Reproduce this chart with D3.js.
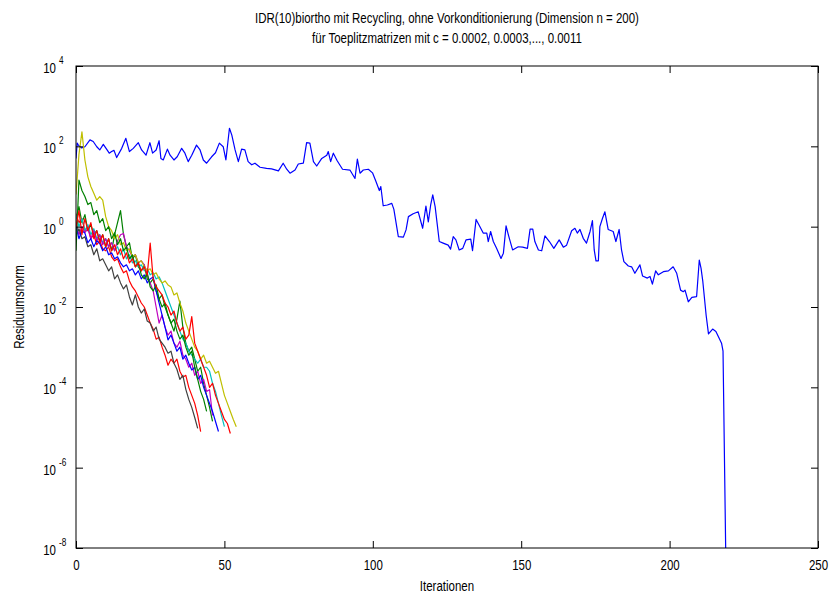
<!DOCTYPE html>
<html>
<head>
<meta charset="utf-8">
<script src="https://cdn.jsdelivr.net/npm/d3@7"></script>
<style>
  body { margin: 0; background: #fff; }
  svg text { font-family: "Liberation Sans", Arial, sans-serif; fill: #000; }
</style>
</head>
<body>
<div class="chart-container"></div>
<script>
// title lines and axis labels
const titleLines = [
    "IDR(10)biortho mit Recycling, ohne Vorkonditionierung (Dimension n = 200)",
    "für Toeplitzmatrizen mit c = 0.0002, 0.0003,..., 0.0011"
];
const xTicks = [0, 50, 100, 150, 200, 250];
const yTickExps = [4, 2, 0, -2, -4, -6, -8];

// long run (c = 0.0002): iteration and log10 of the residual norm
const blueIter = [0, 0.4, 0.8, 1.9, 3, 4.7, 5.8, 7, 8, 9.2, 10.3, 11.2, 12, 12.8, 13.7, 15.4, 16.8, 18, 19.3, 21, 22.1, 23.6,
    24.9, 25.8, 27, 28, 28.6, 29.4, 30.8, 31.7, 33, 34.1, 35.6, 36.7, 37.8, 39, 40.6, 41.8, 42.9, 44, 45.7, 47, 48.3, 49.6,
    50.5, 51.7, 52.5, 53.6, 54.7, 55.8, 56.9, 58, 59.2, 60.3, 62, 64.2, 65.9, 68.2, 69.8, 71, 72.1, 73.8, 74.9, 76.6, 77.7,
    78.8, 80, 81.1, 82.8, 84.5, 85, 85.8, 86.7, 88, 89.8, 92.3, 94, 94.8, 95.7, 96.8, 98.5, 99.9, 101.1, 102.2, 102.7, 103.5,
    104.9, 106.4, 107.1, 108.6, 110.3, 111.2, 112, 113.6, 115.3, 116.8, 117.9, 118.7, 119.5, 120.2, 121, 122.4, 123.7, 125.4,
    126.2, 127.1, 128, 129.1, 130.3, 131.4, 133, 133.6, 134.8, 136.1, 137.2, 138.4, 138.9, 139.7, 140.6, 141.7, 143.2, 144,
    144.9, 145.7, 147.1, 149, 150.5, 152.1, 153, 153.9, 154.6, 155.8, 156.9, 158, 159.5, 161, 162.8, 164.2, 165.3, 167,
    168.1, 168.9, 169.8, 170.9, 172, 173.2, 174, 174.6, 175.2, 176, 176.5, 177.4, 178.2, 179.3, 181, 181.9, 183, 183.8,
    184.6, 186.1, 187.2, 188.3, 190, 190.9, 192.5, 193.4, 194.2, 195.3, 196.2, 197.9, 199.6, 201.2, 202.4, 203.7, 204.6,
    205.2, 206.3, 207.5, 209.1, 210, 210.6, 211.2, 212.3, 213.1, 214.5, 215.6, 216.7, 217.5, 218, 219];
const blueExp = [1.7, 2.08, 2.03, 1.96, 1.99, 2.16, 2.12, 1.99, 1.91, 2.05, 1.93, 1.83, 1.87, 1.9, 1.72, 1.95, 2.2, 1.87, 1.95,
    2.09, 1.91, 1.78, 2.09, 1.83, 1.91, 2.14, 1.7, 1.66, 1.93, 1.78, 1.66, 1.74, 1.95, 1.83, 1.62, 1.78, 2.03, 1.91, 1.66,
    1.58, 1.74, 1.84, 2.08, 1.99, 1.66, 2.45, 2.28, 1.91, 1.62, 1.93, 1.91, 1.62, 1.54, 1.58, 1.48, 1.45, 1.44, 1.39, 1.58,
    1.43, 1.33, 1.41, 1.56, 1.58, 2.09, 2.08, 1.62, 1.51, 1.7, 1.78, 1.87, 1.62, 1.83, 1.64, 1.43, 1.41, 1.2, 1.68, 1.33,
    1.41, 1.43, 1.34, 1.12, 0.9, 1.0, 0.52, 0.54, 0.58, 0.43, -0.25, -0.26, -0.08, 0.25, 0.32, 0.37, -0.04, 0.51, 0.12, 0.54,
    0.79, 0.5, -0.37, -0.41, -0.46, -0.56, -0.25, -0.33, -0.58, -0.54, -0.33, -0.31, -0.6, 0.18, 0.0, -0.16, -0.16, -0.37,
    -0.12, -0.37, -0.54, -0.79, -0.66, 0.02, -0.21, -0.58, -0.5, -0.51, -0.54, -0.06, -0.06, -0.37, -0.58, -0.6, -0.23, -0.37,
    -0.54, -0.33, -0.51, -0.46, -0.1, -0.04, -0.16, -0.07, -0.29, -0.41, -0.12, 0.15, -0.58, -0.85, -0.85, 0.0, 0.21, 0.37,
    -0.07, -0.12, -0.37, -0.07, -0.58, -0.87, -0.98, -1.0, -1.16, -0.95, -1.23, -1.28, -1.24, -1.43, -1.1, -1.2, -1.12, -1.1,
    -1.0, -1.16, -1.58, -1.62, -1.58, -1.87, -1.76, -1.74, -0.83, -1.04, -1.37, -2.2, -2.67, -2.55, -2.61, -2.78, -2.9, -3.1,
    -8.6];

// short runs (c = 0.0003 ... 0.0011): log10 residual per iteration, starting at 0
const expC03 = [0.2, 0.5, 0.1, 0.3, -0.1, 0.05, -0.2, -0.1, -0.35, -0.2, -0.5, -0.3, -0.6, -0.2, 0.1, 0.4, -0.2, -0.5, -0.4,
    -0.8, -0.7, -1.0, -1.1, -0.95, -1.3, -1.4, -1.3, -1.6, -1.8, -1.7, -2.0, -2.2, -2.4, -2.6, -2.3, -1.85, -2.5, -2.9, -3.1,
    -3.0, -3.3, -3.6, -3.5, -3.9, -4.2, -4.5, -4.85];
const expC04 = [0.3, 0.1, 0.2, -0.1, 0.0, -0.3, -0.2, -0.45, -0.35, -0.55, -0.6, -0.5, -0.75, -0.85, -0.8, -1.0, -1.15, -1.1,
    -1.35, -1.5, -1.6, -1.75, -1.9, -2.0, -2.2, -2.4, -2.55, -2.8, -2.75, -3.0, -3.2, -3.45, -3.3, -3.4, -3.3, -3.6, -3.75,
    -3.7, -4.0, -4.2, -4.4, -4.7, -5.1];
const expC05 = [0.3, 0.0, 0.2, -0.1, 0.05, -0.2, -0.05, -0.3, -0.2, -0.4, -0.3, -0.5, -0.4, -0.6, -0.5, -0.7, -0.55, -0.8, -0.7,
    -0.9, -0.85, -1.0, -0.95, -1.1, -1.05, -1.2, -1.15, -1.3, -1.25, -1.4, -1.6, -1.8, -2.0, -2.2, -2.4, -2.6, -2.8, -2.9,
    -3.1, -3.2, -3.3, -3.4, -3.3, -3.5, -3.5, -3.6, -3.9, -4.1, -4.4, -4.7, -4.98];
const expC06 = [0.1, -0.2, 0.0, -0.15, -0.05, -0.3, -0.1, -0.35, -0.2, -0.45, -0.3, -0.5, -0.4, -0.6, -0.35, -0.2, -0.17, -0.5,
    -0.6, -0.75, -0.7, -0.9, -0.85, -0.95, -1.2, -1.4, -1.6, -2.0, -2.4, -2.2, -2.5, -2.7, -2.6, -2.9, -3.0, -2.85, -3.2,
    -3.3, -3.5, -3.4, -3.7, -3.6, -3.9, -3.8, -4.1, -4.06, -4.7];
const expC07 = [0.8, 1.8, 2.36, 1.66, 1.24, 1.0, 0.83, 0.66, 0.75, 0.66, 0.25, 0.0, -0.1, -0.3, -0.2, -0.45, -0.4, -0.6, -0.55,
    -0.75, -0.7, -0.9, -0.85, -1.0, -1.1, -1.05, -1.2, -1.15, -1.3, -1.4, -1.35, -1.45, -1.5, -1.7, -1.65, -1.9, -2.1, -2.4,
    -2.6, -2.8, -3.0, -3.1, -3.3, -3.2, -3.4, -3.35, -3.5, -3.65, -3.6, -3.9, -4.2, -4.4, -4.6, -4.8, -4.98];
const expC08 = [-0.2, -0.05, -0.3, -0.25, -0.5, -0.45, -0.7, -0.55, -0.85, -0.8, -0.95, -1.1, -1.0, -1.3, -1.2, -1.4, -1.55,
    -1.45, -1.75, -1.95, -1.7, -2.0, -2.15, -2.05, -2.35, -2.4, -2.6, -2.5, -2.8, -2.9, -3.0, -3.15, -3.1, -3.4, -3.55, -3.8,
    -3.7, -4.05, -4.3, -4.5, -4.75, -5.02];
const expC09 = [0.0, -0.3, -0.1, -0.16, -0.4, -0.3, -0.5, -0.35, -0.42, -0.6, -0.5, -0.7, -0.65, -0.8, -0.75, -0.9, -1.0, -0.95,
    -1.1, -1.05, -1.2, -1.1, -1.3, -1.2, -1.4, -1.3, -1.25, -1.6, -1.9, -2.2, -2.5, -2.82, -2.7, -2.9, -3.1, -3.0, -3.3, -3.2,
    -3.4, -3.57, -3.5, -3.8, -3.7, -4.0, -4.2, -4.4, -4.6, -4.85, -5.1];
const expC10 = [-0.6, 1.16, 0.9, 0.75, 0.55, 0.6, 0.3, 0.4, 0.1, 0.2, -0.1, 0.0, -0.3, -0.15, -0.45, -0.3, -0.6, -0.5, -0.8,
    -0.7, -1.0, -0.9, -1.2, -1.3, -1.15, -1.5, -1.6, -1.45, -1.8, -2.0, -1.9, -2.2, -2.4, -2.3, -2.6, -2.8, -2.7, -3.0, -3.2,
    -3.1, -3.5, -3.8, -4.1, -4.3, -4.6];
const expC11 = [0.0, 0.4, -0.2, 0.2, -0.1, 0.1, -0.3, -0.1, -0.4, -0.2, -0.5, -0.3, -0.6, -0.45, -0.7, -0.55, -0.8, -0.65, -0.9,
    -0.8, -1.0, -0.9, -1.1, -1.0, -1.2, -0.41, -1.3, -1.5, -1.6, -1.7, -1.9, -2.0, -2.2, -2.1, -2.4, -2.6, -2.5, -2.8, -2.7,
    -2.24, -2.9, -3.1, -3.3, -3.5, -3.7, -4.0, -3.9, -4.2, -4.4, -4.6, -4.8, -4.9, -5.15];

// MATLAB default line colour order
const lineColors = ["#0000ff", "#008000", "#ff0000", "#00bfbf", "#bf00bf", "#bfbf00", "#404040", "#0000ff", "#008000", "#ff0000"];

const width = 832;
const height = 594;
const margin = { top: 66, right: 14, bottom: 46, left: 76 };
const squeeze = 0.82; // reference uses a narrow font

const x = d3.scaleLinear().domain([0, 250]).range([margin.left, width - margin.right]);
const y = d3.scaleLog().domain([1e-8, 1e4]).range([height - margin.bottom, margin.top]);

const svg = d3.select('.chart-container').append("svg")
    .attr("width", width)
    .attr("height", height)
    .attr("viewBox", [0, 0, width, height]);

svg.append("rect").attr("width", width).attr("height", height).attr("fill", "#fff");

svg.append("clipPath").attr("id", "plotclip")
    .append("rect")
    .attr("x", x(0)).attr("y", y(1e4))
    .attr("width", x(250) - x(0)).attr("height", y(1e-8) - y(1e4));

// series as point lists
const series = [blueIter.map((it, i) => [it, Math.pow(10, blueExp[i])])];
[expC03, expC04, expC05, expC06, expC07, expC08, expC09, expC10, expC11].forEach(arr => {
    series.push(arr.map((e, i) => [i, Math.pow(10, e)]));
});

const line = d3.line().x(d => x(d[0])).y(d => y(d[1]));

svg.append("g")
    .attr("clip-path", "url(#plotclip)")
    .selectAll("path")
    .data(series)
    .join("path")
    .attr("fill", "none")
    .attr("stroke", (d, i) => lineColors[i])
    .attr("stroke-width", 1.2)
    .attr("stroke-linejoin", "round")
    .attr("d", line);

// box
svg.append("rect")
    .attr("x", x(0)).attr("y", y(1e4))
    .attr("width", x(250) - x(0)).attr("height", y(1e-8) - y(1e4))
    .attr("fill", "none").attr("stroke", "#000").attr("stroke-width", 1);

const tickLen = 7;

// x axis ticks (inside, top and bottom)
const xAxis = svg.append("g").attr("transform", `translate(0,${y(1e-8)})`)
    .call(d3.axisBottom(x).tickValues(xTicks).tickSize(-tickLen).tickPadding(tickLen + 5).tickFormat(d3.format("d")));
xAxis.select(".domain").remove();
xAxis.selectAll("text").attr("font-size", 14).attr("font-family", null);
svg.append("g").attr("transform", `translate(0,${y(1e4)})`)
    .call(d3.axisTop(x).tickValues(xTicks).tickSize(-tickLen).tickFormat(""))
    .select(".domain").remove();

// y axis ticks (inside, left and right)
const yLeft = svg.append("g").attr("transform", `translate(${x(0)},0)`)
    .call(d3.axisLeft(y).tickValues(yTickExps.map(e => Math.pow(10, e))).tickSize(-tickLen).tickFormat(""));
yLeft.select(".domain").remove();
svg.append("g").attr("transform", `translate(${x(250)},0)`)
    .call(d3.axisRight(y).tickValues(yTickExps.map(e => Math.pow(10, e))).tickSize(-tickLen).tickFormat(""))
    .select(".domain").remove();

// y tick labels: "10" base and a separate raised exponent
const yLabelG = svg.append("g");
yLabelG.selectAll("text.base")
    .data(yTickExps)
    .join("text")
    .attr("class", "base")
    .attr("x", x(0) - 20)
    .attr("y", d => y(Math.pow(10, d)) + 7)
    .attr("text-anchor", "end")
    .attr("font-size", 14)
    .text("10");
yLabelG.selectAll("text.exp")
    .data(yTickExps)
    .join("text")
    .attr("class", "exp")
    .attr("x", x(0) - 17)
    .attr("y", d => y(Math.pow(10, d)) - 2)
    .attr("text-anchor", "start")
    .attr("font-size", 10)
    .text(d => d);

// titles
svg.append("g").selectAll("text")
    .data(titleLines)
    .join("text")
    .attr("x", (x(0) + x(250)) / 2)
    .attr("y", (d, i) => 23 + i * 20)
    .attr("text-anchor", "middle")
    .attr("font-size", 14)
    .text(d => d);

svg.append("text")
    .attr("x", (x(0) + x(250)) / 2)
    .attr("y", 591)
    .attr("text-anchor", "middle")
    .attr("font-size", 14)
    .text("Iterationen");

svg.append("text")
    .attr("transform", `translate(24,${(y(1e4) + y(1e-8)) / 2}) rotate(-90)`)
    .attr("text-anchor", "middle")
    .attr("font-size", 14)
    .text("Residuumsnorm");

// condense every label to mimic the narrow reference font
svg.selectAll("text").each(function () {
    const len = this.getComputedTextLength();
    if (len > 0) {
        d3.select(this).attr("textLength", len * squeeze).attr("lengthAdjust", "spacingAndGlyphs");
    }
});
</script>
</body>
</html>
